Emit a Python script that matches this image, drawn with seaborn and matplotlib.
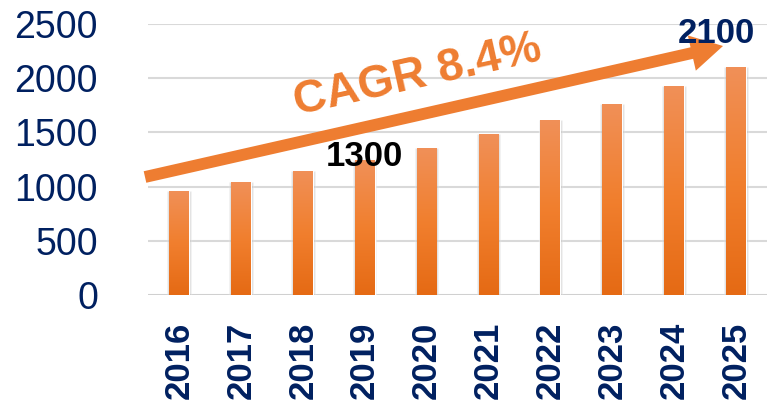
import numpy as np
import pandas as pd
import matplotlib
matplotlib.use("Agg")
import matplotlib.pyplot as plt
import seaborn as sns
from matplotlib.colors import LinearSegmentedColormap

years = ["2016", "2017", "2018", "2019", "2020", "2021", "2022", "2023", "2024", "2025"]
market = [960, 1042, 1144, 1245, 1356, 1485, 1614, 1762, 1928, 2103]
y_ticks = [0, 500, 1000, 1500, 2000, 2500]
cagr_label = "CAGR 8.4%"
start_label = "1300"
end_label = "2100"

navy = "#002060"
orange = "#EE7D31"

sns.set_theme(style="white")
plt.rcParams["font.family"] = ["Liberation Sans", "DejaVu Sans"]

df = pd.DataFrame({"year": years, "value": market})

fig = plt.figure(figsize=(7.67, 4.09), dpi=100)
ax = fig.add_axes([148 / 767, 1 - 295 / 409, (767 - 148) / 767, (295 - 24) / 409])

# soft shadow behind bars
sns.barplot(data=df, x="year", y="value", ax=ax, color="#8a8a8a", width=0.38,
            alpha=0.3, zorder=2)
sns.barplot(data=df, x="year", y="value", ax=ax, color=orange, width=0.32,
            zorder=3)

# gradient fill on main bars
cmap = LinearSegmentedColormap.from_list("og", ["#E56A14", "#F17F2E", "#F09058"])
grad = np.linspace(0, 1, 256).reshape(-1, 1)
n = len(years)
for p in ax.patches[n:]:
    x0, y0 = p.get_x(), p.get_y()
    w, h = p.get_width(), p.get_height()
    im = ax.imshow(grad, cmap=cmap, aspect="auto", origin="lower",
                   extent=[x0, x0 + w, y0, y0 + h], zorder=4)
    im.set_clip_path(p)

ax.set_xlim(-0.5, n - 0.5)
ax.set_ylim(0, 2500)
ax.set_yticks(y_ticks)
ax.set_yticklabels([str(v) for v in y_ticks])
ax.set_xlabel("")
ax.set_ylabel("")
ax.grid(axis="y", color="#D9D9D9", linewidth=1.5, zorder=0)
ax.set_axisbelow(True)
for s in ax.spines.values():
    s.set_visible(False)
ax.axhline(0, color="#D0D0D0", linewidth=2, zorder=1)

ax.tick_params(axis="y", labelsize=27, labelcolor=navy, pad=36, length=0)
ax.tick_params(axis="x", labelsize=25, labelcolor=navy, pad=19, length=0,
               labelrotation=90)
for t in ax.get_xticklabels():
    t.set_fontweight("bold")

# CAGR arrow
ax.annotate("", xy=(723 / 767, 1 - 46 / 409), xycoords="figure fraction",
            xytext=(145 / 767, 1 - 177 / 409), textcoords="figure fraction",
            arrowprops=dict(facecolor=orange, edgecolor="none", width=8.5,
                            headwidth=26, headlength=23, shrink=0),
            zorder=6, annotation_clip=False)
fig.text(418 / 767, 1 - 76 / 409, cagr_label, color=orange, fontsize=33,
         fontweight="bold", rotation=12.6, ha="center", va="center",
         rotation_mode="anchor")

ax.text(3, 1275, start_label, color="black", fontsize=25, fontweight="bold",
        ha="center", va="center", zorder=7)
ax.text(8.68, 2415, end_label, color=navy, fontsize=25, fontweight="bold",
        ha="center", va="center", zorder=7, clip_on=False)

fig.savefig("out.png", dpi=100)
